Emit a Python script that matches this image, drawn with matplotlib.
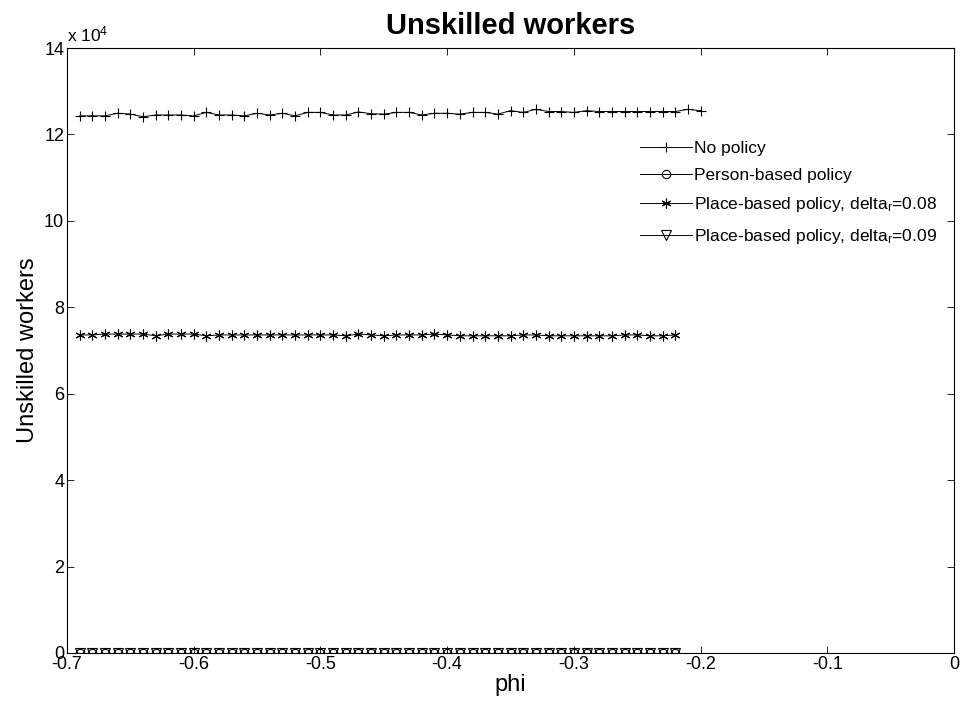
import matplotlib
matplotlib.use("Agg")
import matplotlib.pyplot as plt
from matplotlib.ticker import FuncFormatter

plt.rcParams['font.family'] = ['Liberation Sans', 'DejaVu Sans']
plt.rcParams['mathtext.fontset'] = 'custom'
plt.rcParams['mathtext.rm'] = 'Liberation Sans'
plt.rcParams['mathtext.it'] = 'Liberation Sans'

phi_long = [-0.69, -0.68, -0.67, -0.66, -0.65, -0.64, -0.63, -0.62, -0.61, -0.60,
            -0.59, -0.58, -0.57, -0.56, -0.55, -0.54, -0.53, -0.52, -0.51, -0.50,
            -0.49, -0.48, -0.47, -0.46, -0.45, -0.44, -0.43, -0.42, -0.41, -0.40,
            -0.39, -0.38, -0.37, -0.36, -0.35, -0.34, -0.33, -0.32, -0.31, -0.30,
            -0.29, -0.28, -0.27, -0.26, -0.25, -0.24, -0.23, -0.22, -0.21, -0.20]
phi_short = phi_long[:48]

no_policy = [124300, 124300, 124300, 124900, 124700, 124100, 124500, 124500, 124500, 124300,
             125100, 124500, 124500, 124300, 124900, 124500, 124900, 124300, 125100, 125100,
             124500, 124500, 125200, 124800, 124700, 125100, 125100, 124500, 124900, 124900,
             124700, 125100, 125100, 124700, 125500, 125100, 125800, 125300, 125300, 125100,
             125500, 125300, 125300, 125300, 125300, 125300, 125300, 125300, 125800, 125500]

person_based = [0, 0, 0, 0, 0, 0, 0, 0, 0, 0, 0, 0, 0, 0, 0, 0, 0, 0, 0, 0, 0, 0, 0, 0,
                0, 0, 0, 0, 0, 0, 0, 0, 0, 0, 0, 0, 0, 0, 0, 0, 0, 0, 0, 0, 0, 0, 0, 0]

place_008 = [73600, 73600, 73800, 73800, 73800, 73800, 73400, 73800, 73800, 73800,
             73400, 73600, 73600, 73600, 73600, 73600, 73600, 73600, 73600, 73600,
             73600, 73400, 73800, 73600, 73400, 73600, 73600, 73600, 73800, 73600,
             73400, 73400, 73400, 73400, 73400, 73600, 73600, 73400, 73400, 73400,
             73400, 73400, 73400, 73600, 73600, 73400, 73400, 73600]

place_009 = [0, 0, 0, 0, 0, 0, 0, 0, 0, 0, 0, 0, 0, 0, 0, 0, 0, 0, 0, 0, 0, 0, 0, 0,
             0, 0, 0, 0, 0, 0, 0, 0, 0, 0, 0, 0, 0, 0, 0, 0, 0, 0, 0, 0, 0, 0, 0, 0]

labels = ['No policy', 'Person-based policy',
          'Place-based policy, delta$_\\mathregular{r}$=0.08',
          'Place-based policy, delta$_\\mathregular{r}$=0.09']
x_ticks = [-0.7, -0.6, -0.5, -0.4, -0.3, -0.2, -0.1, 0]
y_ticks = [0, 20000, 40000, 60000, 80000, 100000, 120000, 140000]

fig = plt.figure(figsize=(9.67, 7.06), dpi=100)
ax = fig.add_axes([0.0693, 0.0751, 0.9173, 0.8569])

lw = 0.7
ms = 7
ax.plot(phi_long, no_policy, color='k', lw=lw, marker='+', ms=ms, mew=0.8, label=labels[0])
ax.plot(phi_short, person_based, color='k', lw=lw, marker='o', ms=6, mfc='none', mew=0.8, label=labels[1])
ax.plot(phi_short, place_008, color='k', lw=lw, marker=(6, 2, 0), ms=ms, mew=0.8, label=labels[2])
ax.plot(phi_short, place_009, color='k', lw=lw, marker='v', ms=6.5, mfc='none', mew=0.8, label=labels[3])

ax.set_xlim(-0.7, 0)
ax.set_ylim(0, 140000)
ax.set_xticks(x_ticks)
ax.set_yticks(y_ticks)
ax.xaxis.set_major_formatter(FuncFormatter(lambda v, p: '0' if abs(v) < 1e-9 else f'{v:.1f}'))
ax.yaxis.set_major_formatter(FuncFormatter(lambda v, p: f'{v/1e4:.0f}'))
ax.tick_params(direction='in', top=True, right=True, labelsize=13, length=5, width=0.6, pad=2)
for s in ax.spines.values():
    s.set_linewidth(0.8)

ax.text(0.0, 1.006, 'x 10$^\\mathregular{4}$', transform=ax.transAxes, fontsize=12.5,
        ha='left', va='bottom')

ax.set_title('Unskilled workers', fontsize=21, fontweight='bold', pad=10)
ax.set_xlabel('phi', fontsize=17, labelpad=1)
ax.set_ylabel('Unskilled workers', fontsize=17, labelpad=4)

leg = ax.legend(loc='upper left', bbox_to_anchor=(0.638, 0.858), frameon=False,
                fontsize=12.5, handlelength=3.0, handletextpad=0.1, labelspacing=0.7,
                borderaxespad=0)

fig.savefig('out.png', dpi=100)
